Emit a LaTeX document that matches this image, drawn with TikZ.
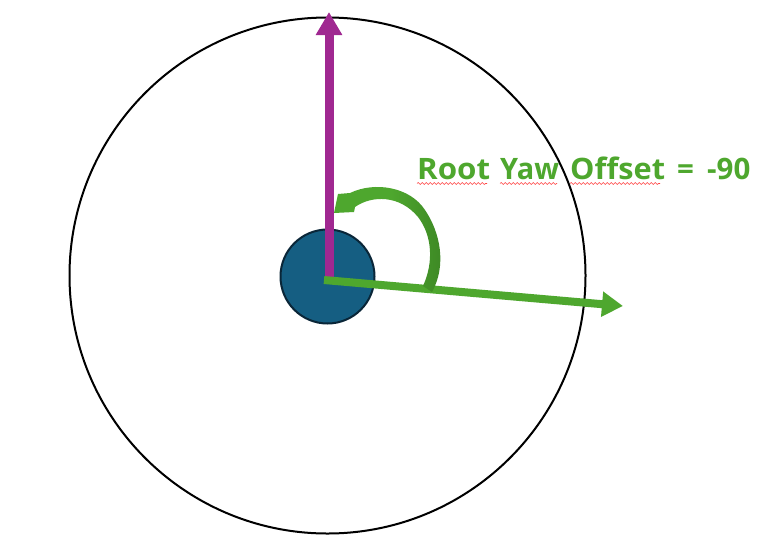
\documentclass[tikz,border=0pt]{standalone}
\usepackage{fontspec}
\setmainfont{Open Sans}
\usetikzlibrary{arrows.meta,decorations.pathmorphing}
\definecolor{gr}{RGB}{78,167,46}
\definecolor{grdark}{RGB}{60,134,36}
\definecolor{pur}{RGB}{160,40,145}
\definecolor{hub}{RGB}{21,94,130}
\definecolor{hubedge}{RGB}{10,38,56}
\tikzset{
  word/.style={anchor=base west,inner sep=0pt,text=gr,font=\fontsize{29.5}{34}\selectfont\bfseries},
  squig/.style={draw=red!75,line width=0.6pt,decorate,decoration={snake,amplitude=1pt,segment length=4pt}}
}
\begin{document}
\begin{tikzpicture}[x=1pt,y=-1pt]
\useasboundingbox (0,0) rectangle (776,555);
\fill[white] (0,0) rectangle (776,555);
% big circle
\node[draw=black,line width=2pt,circle,minimum size=516pt,inner sep=0pt] (big) at (327.5,275.5) {};
% hub
\node[draw=hubedge,fill=hub,line width=2pt,circle,minimum size=94pt,inner sep=0pt] (hub) at (327.5,276.5) {};
\coordinate (o) at (329,279);
\coordinate (up) at (329,12);
\coordinate (o2) at (324,280);
\coordinate (right) at (623,306);
% purple arrow
\draw[pur,line width=9pt,-{Triangle[length=23pt,width=25pt]}] (o) -- (up);
% green arrow
\draw[gr,line width=8pt,-{Triangle[length=21pt,width=24pt]}] (o2) -- (right);
% curved arrow
\shade[left color=gr,right color=grdark,middle color=gr]
  (334,213) -- (338,194) -- (350,193)
  .. controls (375,181) and (410,187) .. (425,210)
  .. controls (440,232) and (447,265) .. (432,292)
  -- (423,286)
  .. controls (434,262) and (432,235) .. (418,217)
  .. controls (400,195) and (372,195) .. (355,207)
  -- (354,212) -- cycle;
% text
\node[word,xscale=1.06] (w1) at (417,179) {Root};
\node[word,xscale=0.98] (w2) at (500,179) {Yaw};
\node[word,xscale=1.04] (w3) at (570,179) {Offset};
\node[word] (w4) at (677,179) {=};
\node[word] (w5) at (707,179) {-90};
\draw[squig] (417,183.5) -- (487,183.5);
\draw[squig] (500,183.5) -- (557,183.5);
\draw[squig] (570,183.5) -- (660,183.5);
\end{tikzpicture}
\end{document}
